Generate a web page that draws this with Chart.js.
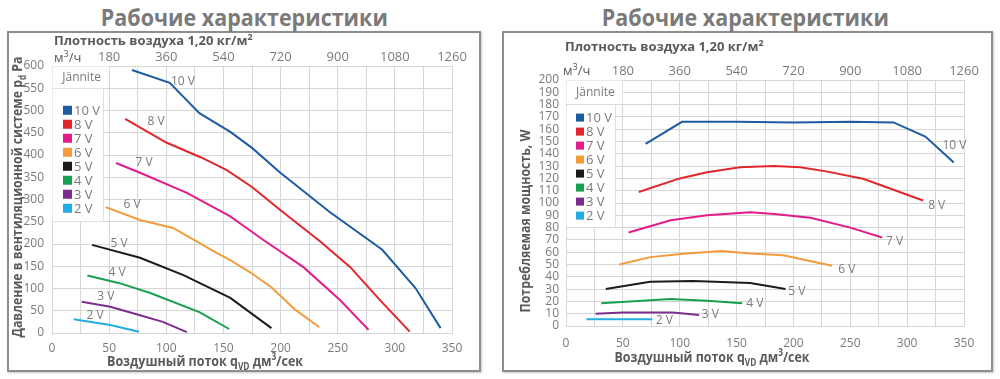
<!DOCTYPE html>
<html><head><meta charset="utf-8">
<script src="https://cdn.jsdelivr.net/npm/chart.js@4.4.1/dist/chart.umd.min.js"></script>
<style>
html,body{margin:0;padding:0;background:#fff;}
body{width:1000px;height:379px;position:relative;overflow:hidden;font-family:'Open Sans',sans-serif;}
.box{position:absolute;box-sizing:border-box;border:2px solid #8e8e8e;box-shadow:1px 1px 2px #c8c8c8;background:#fff;}
.title{position:absolute;top:0;height:34px;line-height:34px;text-align:center;white-space:nowrap;}
.title span{display:inline-block;font-weight:bold;font-size:24px;color:#7a7a7a;transform:scaleX(0.895);transform-origin:center;}
canvas{position:absolute;top:0;}
</style></head>
<body>
<div class="box" style="left:7px;top:31px;width:474px;height:341px;"></div>
<div class="box" style="left:502px;top:31px;width:491px;height:341px;"></div>
<div class="title" style="left:0;width:488px;"><span>Рабочие характеристики</span></div>
<div class="title" style="left:500px;width:490px;"><span>Рабочие характеристики</span></div>
<canvas id="c1" width="500" height="379" style="left:0;width:500px;height:379px;"></canvas>
<canvas id="c2" width="500" height="379" style="left:500px;width:500px;height:379px;"></canvas>
<script>
// ---------- data ----------
const voltages = ['10 V','8 V','7 V','6 V','5 V','4 V','3 V','2 V'];
const xTickLabels = [0,50,100,150,200,250,300,350];
const m3hTicks = ['180','360','540','720','900','1080','1260'];

// Pressure (Pa) vs air flow (dm3/s)
const pressure10V = [[70,591],[103,562],[129,494],[156,452],[175,416],[199,362],[243,272],[289,187],[318,101],[340,11]];
const pressure8V  = [[64,481],[100,428],[130,395],[153,366],[175,328],[200,276],[235,205],[261,148],[287,74],[313,3]];
const pressure7V  = [[56,382],[77,360],[118,315],[156,262],[173,231],[185,209],[220,148],[252,74],[277,7]];
const pressure6V  = [[47,283],[77,254],[106,236],[144,180],[156,164],[173,137],[192,103],[213,52],[234,13]];
const pressure5V  = [[35,198],[77,169],[115,130],[156,79],[192,11]];
const pressure4V  = [[31,129],[59,112],[86,90],[129,47],[155,9]];
const pressure3V  = [[26,70],[51,59],[77,40],[97,25],[118,2]];
const pressure2V  = [[19,31],[51,18],[76,3]];
const pressureLabelAt = [[114.6,564],[91,474],[80.5,382],[70,288],[58.6,200],[56.9,135],[47,81],[37.6,40]];

// Power (W) vs air flow (dm3/s)
const power10V = [[70,148],[102,166],[150,166],[200,165.5],[250,166],[288,165.5],[316,154],[341,133]];
const power8V  = [[64,109],[100,120],[124,125],[153,129],[183,130],[206,129],[230,125.5],[262,119.5],[314,102]];
const power7V  = [[55,76],[92,86],[124,90],[162,92.5],[183,91],[215,88],[250,80],[278,72]];
const power6V  = [[47,50],[74,56],[106,59],[137,61],[162,59],[191,57.5],[234,49]];
const power5V  = [[35,30],[74,36],[112,36.5],[162,35],[193,30]];
const power4V  = [[31,18.5],[74,21],[92,22],[124,20.5],[155,18.5]];
const power3V  = [[26,10],[50,11],[94,11],[117,9]];
const power2V  = [[18,5.5],[76,5.5]];
const powerLabelAt = [[341.6,146.6],[326,97.5],[289,69],[247,46],[203,28],[166,18],[127,9],[86.5,4.5]];

// ---------- styles ----------
const colors = ['#1d5ca3','#e2262c','#e31b8b','#f29b3a','#1b1b1b','#19a04f','#7c2e8e','#22ade3'];
const FONT = "'Open Sans', sans-serif";
const TICK = '#7a7a7a';
const DARK = '#5a5a5a';
const GRID = '#d6d6d6';

function richText(ctx, parts, x, y, align, size, targetW) {
  let w = 0;
  const seg = parts.map(p => {
    const fs = (p.sub || p.sup) ? Math.round(size*0.68) : size;
    ctx.font = 'bold ' + fs + 'px ' + FONT;
    const mw = ctx.measureText(p.t).width;
    w += mw;
    return {p, fs, mw};
  });
  const sx = targetW ? targetW / w : 1;
  ctx.save();
  ctx.translate(x, y);
  ctx.scale(sx, 1);
  let cx = align === 'center' ? -w/2 : 0;
  ctx.textAlign = 'left';
  ctx.textBaseline = 'alphabetic';
  seg.forEach(s => {
    ctx.font = 'bold ' + s.fs + 'px ' + FONT;
    const dy = s.p.sub ? size*0.28 : (s.p.sup ? -size*0.42 : 0);
    ctx.fillText(s.p.t, cx, dy);
    cx += s.mw;
  });
  ctx.restore();
  return w * sx;
}

function makeChart(id, cfg) {
  const A = cfg.area;
  const decor = {
    id: 'decor',
    beforeDatasetsDraw(chart) {
      const ctx = chart.ctx;
      const xs = chart.scales.x, ys = chart.scales.y;
      ctx.save();
      const hx0 = xs.getPixelForValue(0), hx1 = xs.getPixelForValue(50);
      const hy0 = ys.getPixelForValue(cfg.yMax), hy1 = ys.getPixelForValue(cfg.headerBottom);
      ctx.fillStyle = '#fff';
      ctx.fillRect(hx0 + 0.5, hy0 + 0.5, hx1 - hx0 - 1, hy1 - hy0 - 1);
      const by1 = ys.getPixelForValue(cfg.bodyBottom);
      const bx1 = hx0 + cfg.bodyWidth;
      ctx.fillRect(hx0 + 0.5, hy1 + 0.5, bx1 - hx0, by1 - hy1 - 1);
      ctx.strokeStyle = '#dedede';
      ctx.lineWidth = 1;
      ctx.beginPath();
      ctx.moveTo(Math.round(bx1) + 0.5, hy1);
      ctx.lineTo(Math.round(bx1) + 0.5, by1);
      ctx.stroke();
      ctx.fillStyle = TICK;
      ctx.font = '12px ' + FONT;
      ctx.textAlign = 'center';
      ctx.textBaseline = 'middle';
      ctx.fillText('Jännite', (hx0 + hx1)/2 + 1, (hy0 + hy1)/2);
      ctx.font = '13px ' + FONT;
      ctx.textAlign = 'left';
      voltages.forEach((v, i) => {
        const cy = hy1 + cfg.legendFirst + i * cfg.legendStep;
        ctx.fillStyle = colors[i];
        ctx.fillRect(hx0 + cfg.sqX, cy - cfg.sq/2, cfg.sq, cfg.sq);
        ctx.fillStyle = TICK;
        ctx.fillText(v, hx0 + cfg.sqX + cfg.sq + 2, cy + 1);
      });
      ctx.restore();
    },
    afterDraw(chart) {
      const ctx = chart.ctx;
      const xs = chart.scales.x, ys = chart.scales.y;
      ctx.save();
      ctx.fillStyle = TICK;
      ctx.font = '12px ' + FONT;
      ctx.textAlign = 'center';
      ctx.textBaseline = 'middle';
      cfg.labelAt.forEach((p, i) => {
        ctx.fillText(voltages[i], xs.getPixelForValue(p[0]), ys.getPixelForValue(p[1]));
      });
      ctx.fillStyle = DARK;
      richText(ctx, [{t:'Плотность воздуха 1,20 кг/м'},{t:'2',sup:true}], cfg.densX, cfg.densY, 'left', 13);
      ctx.font = '13px ' + FONT;
      ctx.fillStyle = DARK;
      ctx.textAlign = 'left';
      ctx.textBaseline = 'alphabetic';
      const uw = ctx.measureText('м').width;
      ctx.fillText('м', cfg.unitX, cfg.unitY);
      ctx.font = '9px ' + FONT;
      ctx.fillText('3', cfg.unitX + uw, cfg.unitY - 5);
      const w3 = ctx.measureText('3').width;
      ctx.font = '13px ' + FONT;
      ctx.fillText('/ч', cfg.unitX + uw + w3, cfg.unitY);
      ctx.fillStyle = DARK;
      richText(ctx, [{t:'Воздушный поток q'},{t:'VD',sub:true},{t:' дм'},{t:'3',sup:true},{t:'/сек'}], cfg.xTitleX, cfg.xTitleY, 'center', 15, cfg.xTitleW);
      ctx.translate(cfg.yTitleX, cfg.yTitleY);
      ctx.rotate(-Math.PI/2);
      richText(ctx, cfg.yTitle, 0, 0, 'center', 15, cfg.yTitleW);
      ctx.restore();
    }
  };
  return new Chart(document.getElementById(id), {
    type: 'line',
    data: {
      datasets: cfg.series.map((s, i) => ({
        label: voltages[i],
        data: s.map(p => ({x: p[0], y: p[1]})),
        borderColor: colors[i],
        backgroundColor: colors[i],
        borderWidth: 2,
        pointRadius: 0,
        tension: 0,
        fill: false
      }))
    },
    options: {
      responsive: false,
      animation: false,
      devicePixelRatio: 1,
      events: [],
      layout: {padding: {left: 0, top: 0, bottom: 0, right: 500 - A.r}},
      plugins: {legend: {display: false}, tooltip: {enabled: false}, title: {display: false}},
      scales: {
        x: {
          type: 'linear', position: 'bottom', min: 0, max: 350,
          afterFit: s => { s.height = 379 - A.b; },
          grid: {color: GRID, drawTicks: false},
          border: {color: GRID},
          ticks: {stepSize: 25, autoSkip: false, maxRotation: 0, padding: cfg.xPad, color: TICK,
                  font: {family: FONT, size: 12},
                  callback: v => xTickLabels.includes(v) ? String(v) : ''}
        },
        x2: {
          type: 'linear', position: 'top', min: 0, max: 350,
          afterFit: s => { s.height = A.t; },
          grid: {display: false, drawTicks: false},
          border: {display: false},
          ticks: {stepSize: 50, autoSkip: false, maxRotation: 0, padding: cfg.x2Pad, color: TICK,
                  font: {family: FONT, size: 13},
                  callback: (v, i) => i === 0 ? '' : m3hTicks[i - 1]}
        },
        y: {
          type: 'linear', min: 0, max: cfg.yMax,
          afterFit: s => { s.width = A.l; },
          grid: {color: GRID, drawTicks: false},
          border: {color: GRID},
          ticks: {stepSize: cfg.yStep, autoSkip: false, padding: cfg.yPad, color: TICK,
                  font: {family: FONT, size: 12}}
        }
      }
    },
    plugins: [decor]
  });
}

makeChart('c1', {
  area: {l: 52, r: 452, t: 66, b: 333},
  series: [pressure10V, pressure8V, pressure7V, pressure6V, pressure5V, pressure4V, pressure3V, pressure2V],
  labelAt: pressureLabelAt,
  yMax: 600, yStep: 50, headerBottom: 550, bodyBottom: 250, bodyWidth: 51,
  legendFirst: 22, legendStep: 14, sq: 9, sqX: 11,
  xPad: 8, x2Pad: 1, yPad: 8,
  densX: 54, densY: 45, unitX: 54, unitY: 62,
  xTitleX: 205, xTitleY: 366, xTitleW: 196,
  yTitleX: 22, yTitleY: 197, yTitleW: 281,
  yTitle: [{t:'Давление в вентиляционной системе p'},{t:'d',sub:true},{t:' Pa'}]
});

makeChart('c2', {
  area: {l: 66, r: 464, t: 80, b: 326},
  series: [power10V, power8V, power7V, power6V, power5V, power4V, power3V, power2V],
  labelAt: powerLabelAt,
  yMax: 200, yStep: 10, headerBottom: 180, bodyBottom: 80, bodyWidth: 49,
  legendFirst: 13, legendStep: 14, sq: 8, sqX: 10,
  xPad: 10, x2Pad: 1, yPad: 7,
  densX: 65, densY: 51, unitX: 63, unitY: 75,
  xTitleX: 212, xTitleY: 362, xTitleW: 195,
  yTitleX: 30, yTitleY: 221, yTitleW: 183,
  yTitle: [{t:'Потребляемая мощность, W'}]
});
</script>
</body></html>
